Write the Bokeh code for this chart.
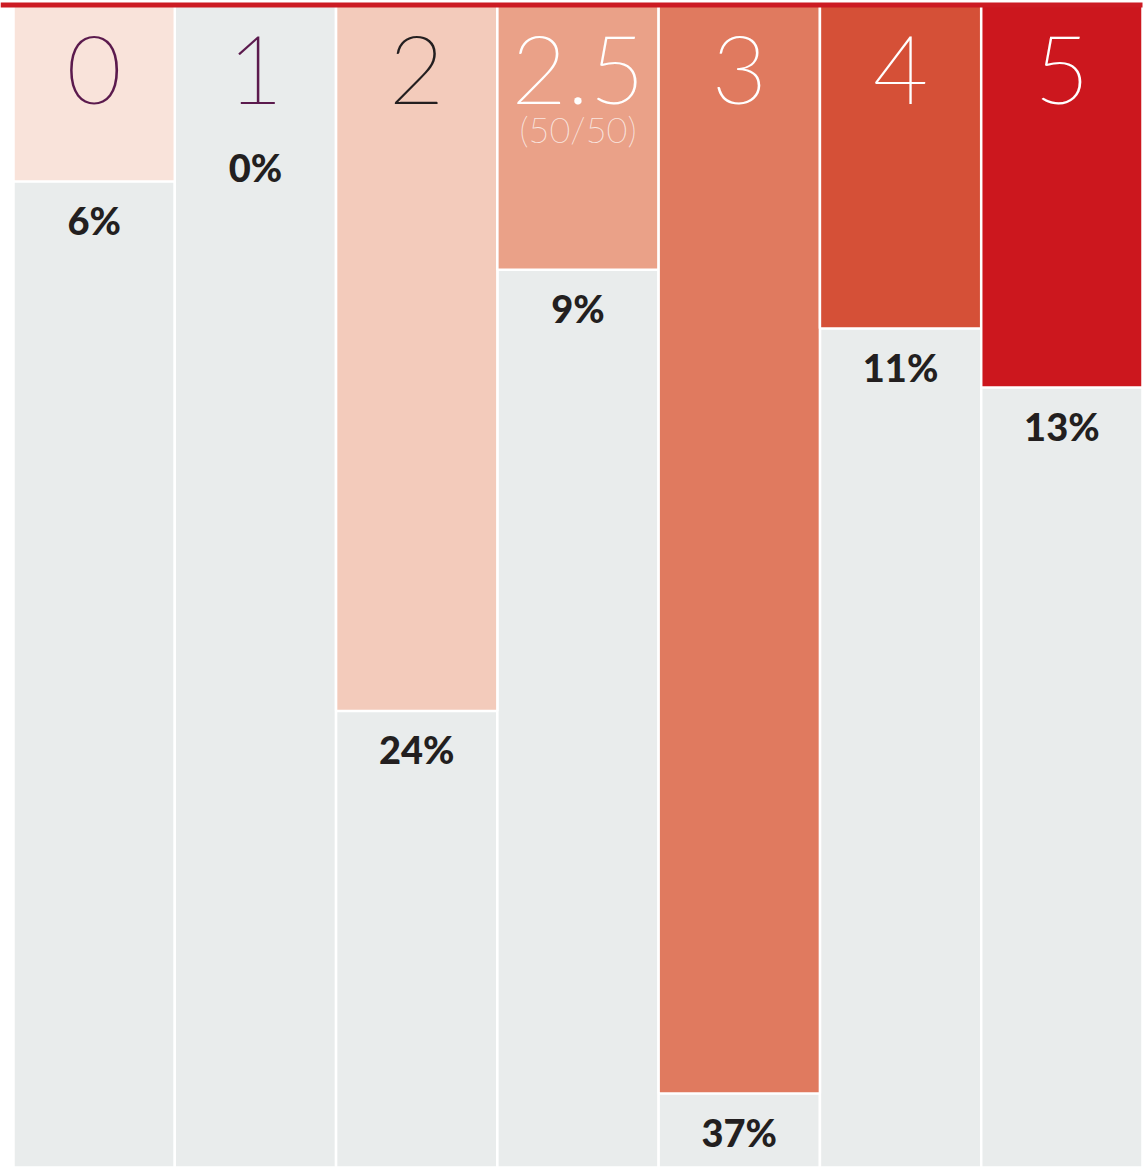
from bokeh.plotting import figure
from bokeh.models import Range1d, ColumnDataSource
from bokeh.core.properties import value
from bokeh.embed import file_html
from bokeh.resources import INLINE

# Share of responses per score
scores = ["0", "1", "2", "2.5", "3", "4", "5"]
sublabels = ["", "", "", "(50/50)", "", "", ""]
shares = [6, 0, 24, 9, 37, 11, 13]

bar_colors = ["#f9e3da", "#f9e3da", "#f3cbbb", "#eaa188", "#e07a5f", "#d55037", "#cc171e"]
score_colors = ["#5b1a4d", "#5b1a4d", "#231f20", "#ffffff", "#ffffff", "#ffffff", "#ffffff"]

W, H = 1148, 1167
n = len(scores)
xs = list(range(n))
px_per_unit = 29.42
y_bottom = (H - 4.5) / px_per_unit
y_top = -4.5 / px_per_unit
col_px = (1142 - 13) / n
x_start = -0.5 - 13 / col_px
x_end = (n - 0.5) + (W - 1142) / col_px

p = figure(width=W, height=H, output_backend="svg", toolbar_location=None,
           x_range=Range1d(x_start, x_end), y_range=Range1d(y_bottom, y_top),
           min_border=0, outline_line_color=None, background_fill_color="white",
           border_fill_color="white")
p.axis.visible = False
p.grid.visible = False

src = ColumnDataSource(dict(
    x=xs, score=scores, sub=sublabels, share=shares,
    color=bar_colors, tcolor=score_colors,
    pct=[f"{v}%" for v in shares],
    label_y=[max(v, 4.2) + 1.3 for v in shares],
))

# grey full-height columns
p.vbar(x="x", width=1, top=0, bottom=y_bottom + 1, source=src,
       fill_color="#e9ecec", line_color="white", line_width=2.5)

# coloured bars hanging from the top
bars = ColumnDataSource(dict(x=[x for x, v in zip(xs, shares) if v > 0],
                             share=[v for v in shares if v > 0],
                             color=[c for c, v in zip(bar_colors, shares) if v > 0]))
p.vbar(x="x", width=1, top=0, bottom="share", source=bars,
       fill_color="color", line_color="white", line_width=2.5)

# red rule across the top
p.segment(x0=x_start, y0=0, x1=n - 0.5, y1=0, line_color="#cc1b23", line_width=5)

thin = value("'Lato Thin', 'Roboto Thin', 'Lato Light', sans-serif")

p.text(x="x", y=2.2, text="score", source=src, text_color="tcolor",
       text_font=thin, text_font_size="96px",
       text_align="center", text_baseline="middle")
p.text(x="x", y=4.2, text="sub", source=src, text_color="#ffffff", text_alpha=0.75,
       text_font=thin, text_font_size="36px",
       text_align="center", text_baseline="middle")

p.text(x="x", y="label_y", text="pct", source=src, text_color="#231f20",
       text_font=value("'Lato Heavy', 'Lato Black', Lato, sans-serif"),
       text_font_style="bold", text_font_size="38px",
       text_align="center", text_baseline="middle")

open("out.html", "w").write(file_html(p, INLINE))
